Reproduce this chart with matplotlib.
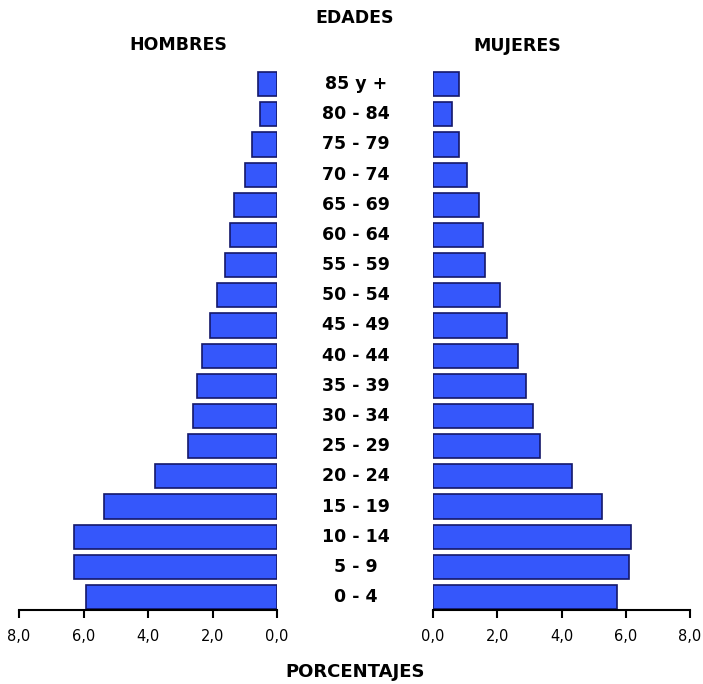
import numpy as np
import matplotlib.pyplot as plt
import matplotlib.transforms as mtransforms

plt.rcParams['font.family'] = ['DejaVu Sans']

# grupos de edad, de abajo hacia arriba
edades = ['0 - 4', '5 - 9', '10 - 14', '15 - 19', '20 - 24', '25 - 29', '30 - 34',
          '35 - 39', '40 - 44', '45 - 49', '50 - 54', '55 - 59', '60 - 64',
          '65 - 69', '70 - 74', '75 - 79', '80 - 84', '85 y +']
hombres = [5.93, 6.30, 6.30, 5.35, 3.77, 2.75, 2.62, 2.48, 2.34, 2.07, 1.87, 1.60,
           1.47, 1.34, 0.99, 0.79, 0.52, 0.58]
mujeres = [5.74, 6.09, 6.15, 5.25, 4.32, 3.32, 3.12, 2.90, 2.65, 2.30, 2.09, 1.62,
           1.56, 1.42, 1.06, 0.80, 0.59, 0.80]
ticks = [0, 2, 4, 6, 8]
tick_labels = ['0,0', '2,0', '4,0', '6,0', '8,0']

W, H = 703, 684
fig = plt.figure(figsize=(W / 100, H / 100), dpi=100)

bottom = 1 - 610 / H
height = (610 - 69) / H
ax_l = fig.add_axes([19 / W, bottom, (277 - 19) / W, height])
ax_r = fig.add_axes([433 / W, bottom, (690 - 433) / W, height])

y = np.arange(len(edades))
face = '#3557fb'
edge = '#14186a'

for ax, vals in [(ax_l, hombres), (ax_r, mujeres)]:
    ax.barh(y, vals, height=0.8, color=face, edgecolor=edge, linewidth=1.2)
    ax.set_ylim(-0.43, len(edades) - 0.5)
    ax.set_xticks(ticks)
    ax.set_xticklabels(tick_labels, fontsize=10.5)
    ax.set_yticks([])
    for s in ['top', 'left', 'right']:
        ax.spines[s].set_visible(False)
    ax.spines['bottom'].set_linewidth(1.5)
    ax.tick_params(axis='x', direction='out', length=6, width=1.5, pad=8)

ax_l.set_xlim(8, 0)
ax_r.set_xlim(0, 8)

# etiquetas de edad en el centro
trans = mtransforms.blended_transform_factory(fig.transFigure, ax_l.transData)
for i, lab in enumerate(edades):
    ax_l.text(356 / W, i, lab, transform=trans, ha='center', va='center',
              fontsize=12.5, fontweight='bold', clip_on=False)

fig.text(355 / W, 1 - 18 / H, 'EDADES', ha='center', va='center', fontsize=12.5, fontweight='bold')
fig.text(178 / W, 1 - 45 / H, 'HOMBRES', ha='center', va='center', fontsize=12.5, fontweight='bold')
fig.text(517 / W, 1 - 46 / H, 'MUJERES', ha='center', va='center', fontsize=12.5, fontweight='bold')
fig.text(355 / W, 1 - 672 / H, 'PORCENTAJES', ha='center', va='center', fontsize=13, fontweight='bold')

fig.savefig('out.png', dpi=100)
